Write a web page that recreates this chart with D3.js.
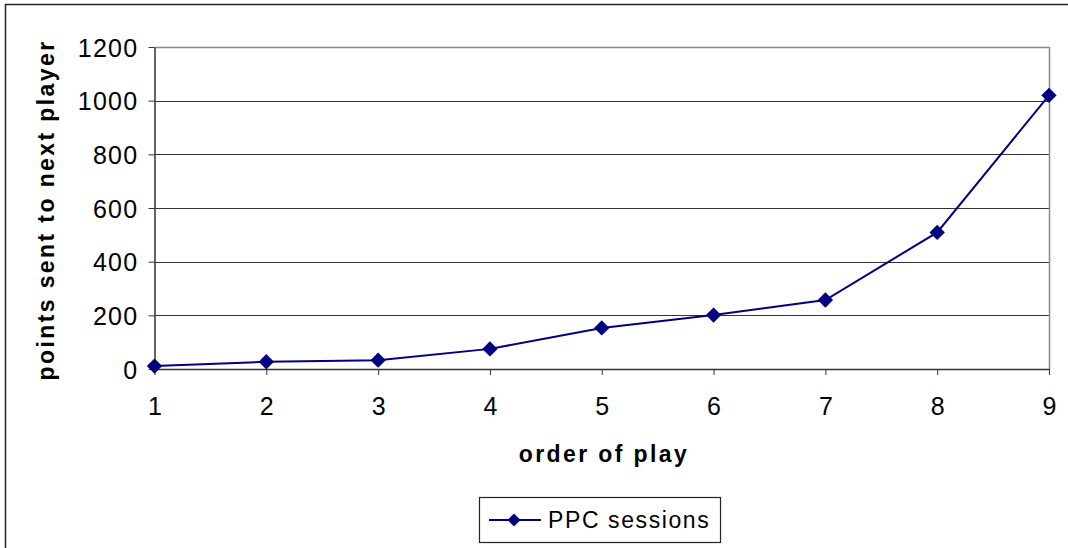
<!DOCTYPE html>
<html><head><meta charset="utf-8">
<script src="https://cdn.jsdelivr.net/npm/d3@7"></script>
<style>body{margin:0;background:#fff}svg{display:block}text{font-family:"Liberation Sans",Arial,sans-serif}</style>
</head><body>
<script>
const categories = [1,2,3,4,5,6,7,8,9];
const ppcSessions = [11,27,33,75,153,201,257,509,1020];
const yTicks = [0,200,400,600,800,1000,1200];
const seriesName = "PPC sessions";
const xTitle = "order of play";
const yTitle = "points sent to next player";

const W=1068,H=548;
const svg=d3.select("body").append("svg").attr("width",W).attr("height",H);
svg.append("rect").attr("x",5.5).attr("y",4.5).attr("width",1070).attr("height",560).attr("fill","#fff").attr("stroke","#222").attr("stroke-width",1.5);

const x=d3.scaleLinear().domain([1,9]).range([154.5,1049]);
const y=d3.scaleLinear().domain([0,1200]).range([369,47]);

svg.append("g").selectAll("line").data(yTicks.filter(d=>d>0&&d<1200)).join("line")
 .attr("x1",154.5).attr("x2",1049).attr("y1",d=>Math.round(y(d))+0.5).attr("y2",d=>Math.round(y(d))+0.5)
 .attr("stroke","#333").attr("stroke-width",1);
svg.append("path").attr("d",`M154.5,${y(1200)+0.5}H1049.5V${y(0)}`).attr("fill","none").attr("stroke","#888").attr("stroke-width",1.5);

const yAxis=svg.append("g").attr("transform","translate(154.5,0)").call(d3.axisLeft(y).tickValues(yTicks).tickFormat(d3.format("d")).tickSize(6).tickPadding(10).tickSizeOuter(0));
yAxis.select(".domain").attr("stroke","#333").attr("stroke-width",1.5);
yAxis.selectAll("line").attr("stroke","#333");
yAxis.selectAll("text").attr("font-size",25).attr("letter-spacing",1.3).attr("fill","#000").attr("dy","0.36em");

const xAxis=svg.append("g").attr("transform",`translate(0,${y(0)})`).call(d3.axisBottom(x).tickValues(categories).tickFormat(d3.format("d")).tickSize(6).tickPadding(22).tickSizeOuter(0));
xAxis.select(".domain").attr("stroke","#333").attr("stroke-width",1.5);
xAxis.selectAll("line").attr("stroke","#333");
xAxis.selectAll("text").attr("font-size",25).attr("fill","#000");

const line=d3.line().x((d,i)=>x(categories[i])).y(d=>y(d));
svg.append("path").datum(ppcSessions).attr("d",line).attr("fill","none").attr("stroke","#000080").attr("stroke-width",2);
const diamond=d3.symbol().type(d3.symbolDiamond2).size(150);
svg.append("g").selectAll("path").data(ppcSessions).join("path")
 .attr("transform",(d,i)=>`translate(${x(categories[i])},${y(d)})`).attr("d",diamond).attr("fill","#000080");

svg.append("text").attr("x",604).attr("y",462).attr("text-anchor","middle").attr("font-size",23).attr("letter-spacing",2.4).attr("font-weight","bold").text(xTitle);
svg.append("text").attr("transform","translate(54,210) rotate(-90)").attr("text-anchor","middle").attr("font-size",23).attr("letter-spacing",2.4).attr("font-weight","bold").text(yTitle);

const lg=svg.append("g");
lg.append("rect").attr("x",479.5).attr("y",497.5).attr("width",241).attr("height",45).attr("fill","#fff").attr("stroke","#222").attr("stroke-width",1.2);
lg.append("line").attr("x1",489).attr("x2",541).attr("y1",520).attr("y2",520).attr("stroke","#000080").attr("stroke-width",2);
lg.append("path").attr("transform","translate(514,520)").attr("d",d3.symbol().type(d3.symbolDiamond2).size(110)).attr("fill","#000080");
lg.append("text").attr("x",548).attr("y",528).attr("font-size",23).attr("letter-spacing",1.6).attr("fill","#000").text(seriesName);
</script>
</body></html>
